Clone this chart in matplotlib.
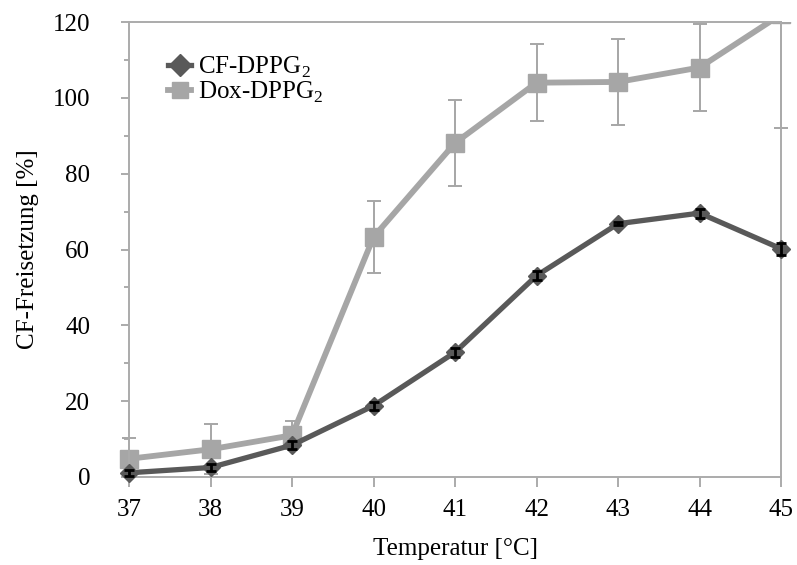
import numpy as np
import matplotlib
matplotlib.use('Agg')
import matplotlib.pyplot as plt
from matplotlib.patches import Rectangle
from matplotlib.lines import Line2D

plt.rcParams['font.family'] = ['Liberation Serif', 'DejaVu Serif']
plt.rcParams['mathtext.fontset'] = 'custom'
plt.rcParams['mathtext.rm'] = 'Liberation Serif'

"""Data read from the chart"""

temperature = [37, 38, 39, 40, 41, 42, 43, 44, 45]

cf_release = [1.1, 2.5, 8.4, 18.8, 32.9, 53.1, 66.8, 69.6, 60.2]
cf_error = [0.8, 1.0, 1.0, 1.1, 1.2, 1.2, 0.4, 1.2, 1.6]

dox_release = [4.8, 7.3, 11.0, 63.3, 88.1, 104.0, 104.2, 108.0, 122.0]
dox_error = [5.6, 6.6, 3.7, 9.6, 11.3, 10.2, 11.3, 11.4, 30.0]

labels = ['CF-DPPG$_2$', 'Dox-DPPG$_2$']
x_ticks = np.arange(37, 46)
y_ticks = np.arange(0, 121, 20)

dark = '#595959'
light = '#A6A6A6'
frame = '#ABABAB'

fig = plt.figure(figsize=(7.97, 5.65), dpi=100)
ax = fig.add_axes([0.1619, 0.1558, 0.98 - 0.1619, 0.961 - 0.1558])

# Dox series: clipped at the top only, markers may spill past left/right edges
dox = ax.errorbar(temperature, dox_release, yerr=dox_error, color=light,
                  lw=4.2, marker='s', ms=13, mec=light, mfc=light,
                  ecolor=light, elinewidth=1.4, capsize=5, capthick=1.4,
                  zorder=2)
clip_rect = Rectangle((-0.05, 0), 1.1, 1, transform=ax.transAxes,
                      facecolor='none', edgecolor='none')
ax.add_patch(clip_rect)
for art in [dox.lines[0], *dox.lines[1], *dox.lines[2]]:
    art.set_clip_path(clip_rect)

# CF series
cf = ax.errorbar(temperature, cf_release, yerr=cf_error, color=dark,
                 lw=3.8, marker='D', ms=9.5, mec=dark, mfc=dark,
                 ecolor='black', elinewidth=2, capsize=3.5, capthick=2,
                 zorder=3)
for art in [cf.lines[0], *cf.lines[1], *cf.lines[2]]:
    art.set_clip_on(False)
for art in [*cf.lines[1], *cf.lines[2]]:
    art.set_zorder(4)

ax.set_xlim(37, 45)
ax.set_ylim(0, 120)
ax.set_xticks(x_ticks)
ax.set_yticks(y_ticks)
ax.set_yticks(np.arange(10, 120, 20), minor=True)

for side in ['left', 'right', 'top', 'bottom']:
    ax.spines[side].set_color(frame)
    ax.spines[side].set_linewidth(1.4)

ax.tick_params(axis='y', which='major', direction='out', length=6,
               width=1.4, color=frame, labelsize=18, pad=22)
ax.tick_params(axis='y', which='minor', direction='out', length=3.5,
               width=1.4, color=frame)
ax.tick_params(axis='x', which='major', direction='out', length=7,
               width=1.4, color=frame, labelsize=18, pad=9)

ax.set_xlabel('Temperatur [°C]', fontsize=18, labelpad=12)
ax.set_ylabel('CF-Freisetzung [%]', fontsize=18, labelpad=10)

# legend: marker with a short line stub, no error bars
handles = [
    Line2D([], [], color=dark, lw=3.8, marker='D', ms=11, mec=dark, mfc=dark),
    Line2D([], [], color=light, lw=4.2, marker='s', ms=11, mec=light, mfc=light),
]
ax.legend(handles, labels, loc='upper left', bbox_to_anchor=(0.045, 0.95),
          frameon=False, fontsize=18, handlelength=0.9, handletextpad=0.3,
          labelspacing=0.0, borderaxespad=0)

fig.savefig('out.png', dpi=100)
